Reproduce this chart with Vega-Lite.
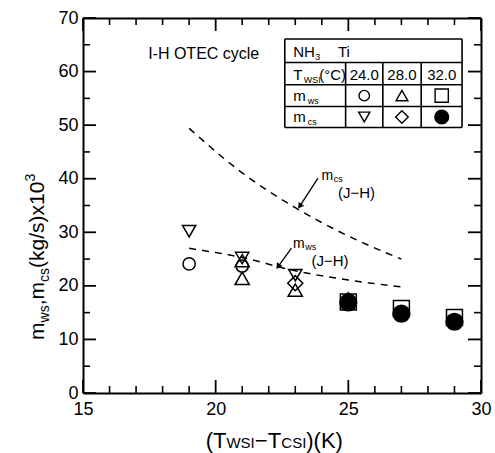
{
  "$schema": "https://vega.github.io/schema/vega-lite/v6.json",
  "width": 398,
  "height": 375,
  "autosize": "none",
  "padding": {"left": 83, "top": 18, "right": 14, "bottom": 60},
  "background": "white",
  "config": {
    "font": "Liberation Sans",
    "view": {"stroke": null},
    "axis": {"domainColor": "black", "labelColor": "black", "titleColor": "black", "grid": false, "domainWidth": 2, "ticks": false, "labelFont": "Liberation Sans"}
  },
  "resolve": {"axis": {"x": "independent", "y": "independent"}, "scale": {"size": "independent"}},
  "datasets": {
    "xticks": [
      {"v": 15, "k": "M"}, {"v": 16, "k": "m"}, {"v": 17, "k": "m"}, {"v": 18, "k": "m"}, {"v": 19, "k": "m"},
      {"v": 20, "k": "M"}, {"v": 21, "k": "m"}, {"v": 22, "k": "m"}, {"v": 23, "k": "m"}, {"v": 24, "k": "m"},
      {"v": 25, "k": "M"}, {"v": 26, "k": "m"}, {"v": 27, "k": "m"}, {"v": 28, "k": "m"}, {"v": 29, "k": "m"},
      {"v": 30, "k": "M"}
    ],
    "yticks": [
      {"v": 0, "k": "M"}, {"v": 5, "k": "m"}, {"v": 10, "k": "M"}, {"v": 15, "k": "m"}, {"v": 20, "k": "M"},
      {"v": 25, "k": "m"}, {"v": 30, "k": "M"}, {"v": 35, "k": "m"}, {"v": 40, "k": "M"}, {"v": 45, "k": "m"},
      {"v": 50, "k": "M"}, {"v": 55, "k": "m"}, {"v": 60, "k": "M"}, {"v": 65, "k": "m"}, {"v": 70, "k": "M"}
    ],
    "jh": [
      {"s": "mcs", "x": 19, "y": 49.4}, {"s": "mcs", "x": 21, "y": 41.1}, {"s": "mcs", "x": 23, "y": 34.6}, {"s": "mcs", "x": 25, "y": 29.3}, {"s": "mcs", "x": 27, "y": 25.0},
      {"s": "mws", "x": 19, "y": 27.0}, {"s": "mws", "x": 21, "y": 25.3}, {"s": "mws", "x": 23, "y": 22.8}, {"s": "mws", "x": 25, "y": 21.1}, {"s": "mws", "x": 27, "y": 19.8}
    ],
    "pts": [
      {"series": "mcs 24.0", "x": 19, "y": 30.2},
      {"series": "mws 24.0", "x": 19, "y": 24.1},
      {"series": "mcs 24.0", "x": 21, "y": 25.2},
      {"series": "mws 28.0", "x": 21, "y": 24.7},
      {"series": "mws 24.0", "x": 21, "y": 23.7},
      {"series": "mws 28.0", "x": 21, "y": 21.4},
      {"series": "mcs 24.0", "x": 23, "y": 22.0},
      {"series": "mcs 28.0", "x": 23, "y": 20.5},
      {"series": "mws 28.0", "x": 23, "y": 19.2},
      {"series": "mws 28.0", "x": 25, "y": 17.5},
      {"series": "mcs 28.0", "x": 25, "y": 17.3},
      {"series": "mws 32.0", "x": 25, "y": 17.0},
      {"series": "mcs 32.0", "x": 25, "y": 16.9},
      {"series": "mws 32.0", "x": 27, "y": 15.8},
      {"series": "mcs 32.0", "x": 27, "y": 14.8},
      {"series": "mws 32.0", "x": 29, "y": 14.1},
      {"series": "mcs 32.0", "x": 29, "y": 13.3}
    ],
    "tlines": [
      {"x1": 22.605, "x2": 29.286, "y1": 66.08, "y2": 66.08},
      {"x1": 22.605, "x2": 29.286, "y1": 61.7, "y2": 61.7},
      {"x1": 22.605, "x2": 29.286, "y1": 57.54, "y2": 57.54},
      {"x1": 22.605, "x2": 29.286, "y1": 53.48, "y2": 53.48},
      {"x1": 22.605, "x2": 29.286, "y1": 49.56, "y2": 49.56},
      {"x1": 22.605, "x2": 22.605, "y1": 66.08, "y2": 49.56},
      {"x1": 29.286, "x2": 29.286, "y1": 66.08, "y2": 49.56},
      {"x1": 24.898, "x2": 24.898, "y1": 61.7, "y2": 49.56},
      {"x1": 26.3, "x2": 26.3, "y1": 61.7, "y2": 49.56},
      {"x1": 27.745, "x2": 27.745, "y1": 61.7, "y2": 49.56}
    ],
    "tsym": [
      {"series": "mws 24.0", "x": 25.6, "y": 55.51},
      {"series": "mws 28.0", "x": 27.02, "y": 55.51},
      {"series": "mws 32.0", "x": 28.52, "y": 55.51},
      {"series": "mcs 24.0", "x": 25.6, "y": 51.52},
      {"series": "mcs 28.0", "x": 27.02, "y": 51.52},
      {"series": "mcs 32.0", "x": 28.52, "y": 51.52}
    ],
    "tbig": [
      {"t": "NH", "x": 22.92, "y": 62.68},
      {"t": "Ti", "x": 24.61, "y": 62.68},
      {"t": "T", "x": 22.92, "y": 58.47},
      {"t": "(°C)", "x": 23.9, "y": 58.47},
      {"t": "m", "x": 22.92, "y": 54.6},
      {"t": "m", "x": 22.92, "y": 50.68}
    ],
    "tsmall": [
      {"t": "3", "x": 23.75, "y": 62.68},
      {"t": "WSI", "x": 23.32, "y": 58.47},
      {"t": "ws", "x": 23.47, "y": 54.6},
      {"t": "cs", "x": 23.47, "y": 50.68}
    ],
    "tnum": [
      {"t": "24.0", "x": 25.6, "y": 58.47},
      {"t": "28.0", "x": 27.02, "y": 58.47},
      {"t": "32.0", "x": 28.52, "y": 58.47}
    ],
    "annbig": [
      {"t": "m", "x": 23.985, "y": 39.79},
      {"t": "m", "x": 22.917, "y": 27.03}
    ],
    "annsmall": [
      {"t": "cs", "x": 24.447, "y": 39.79},
      {"t": "ws", "x": 23.376, "y": 27.03}
    ],
    "annjh": [
      {"t": "(J−H)", "x": 24.609, "y": 36.43},
      {"t": "(J−H)", "x": 23.609, "y": 23.72}
    ],
    "anntitle": [
      {"t": "I-H OTEC cycle", "x": 17.455, "y": 62.4}
    ],
    "arrows": [
      {"x1": 23.857, "y1": 40.11, "x2": 23.17, "y2": 34.87},
      {"x1": 22.857, "y1": 27.03, "x2": 22.353, "y2": 23.59}
    ],
    "xtbig": [
      {"t": "(T", "x": 19.624, "y": -10.27},
      {"t": "−T", "x": 21.477, "y": -10.27},
      {"t": ")(K)", "x": 23.414, "y": -10.27}
    ],
    "xtsmall": [
      {"t": "WSI", "x": 20.406, "y": -10.27},
      {"t": "CSI", "x": 22.474, "y": -10.27}
    ],
    "ytbig": [
      {"t": "m", "x": 13.545, "y": 9.9},
      {"t": ",m", "x": 13.545, "y": 16.36},
      {"t": "(kg/s)x10", "x": 13.545, "y": 23.33}
    ],
    "ytsmall": [
      {"t": "ws", "x": 13.545, "y": 13.17},
      {"t": "cs", "x": 13.545, "y": 20.72}
    ],
    "ytsup": [
      {"t": "3", "x": 13.545, "y": 39.47}
    ]
  },
  "layer": [
    {
      "data": {"name": "jh"},
      "mark": {"type": "line", "strokeDash": [7, 6], "color": "black", "strokeWidth": 1.5, "interpolate": "monotone"},
      "encoding": {
        "x": {"field": "x", "type": "quantitative", "scale": {"domain": [15, 30], "nice": false, "zero": false},
              "axis": {"orient": "bottom", "values": [15, 20, 25, 30], "labelFontSize": 18, "labelPadding": 7, "title": null, "labelFlush": false}},
        "y": {"field": "y", "type": "quantitative", "scale": {"domain": [0, 70], "nice": false, "zero": false},
              "axis": {"orient": "left", "values": [0, 10, 20, 30, 40, 50, 60, 70], "labelFontSize": 18, "labelPadding": 5, "title": null}},
        "detail": {"field": "s"}
      }
    },
    {
      "data": {"name": "tlines"},
      "mark": {"type": "rule", "color": "black", "strokeWidth": 1.6},
      "encoding": {
        "x": {"field": "x1", "type": "quantitative", "scale": {"domain": [15, 30], "nice": false, "zero": false},
              "axis": {"orient": "top", "values": [15, 30], "labels": false, "domain": true, "title": null}},
        "x2": {"field": "x2"},
        "y": {"field": "y1", "type": "quantitative", "scale": {"domain": [0, 70], "nice": false, "zero": false},
              "axis": {"orient": "right", "values": [0, 70], "labels": false, "domain": true, "title": null}},
        "y2": {"field": "y2"}
      }
    },
    {
      "data": {"name": "xticks"},
      "mark": {"type": "rule", "color": "black", "strokeWidth": 1.8, "y2Offset": -13},
      "transform": [{"filter": "datum.k === 'M'"}],
      "encoding": {"x": {"field": "v", "type": "quantitative", "axis": null}, "y": {"datum": 0, "type": "quantitative", "axis": null}, "y2": {"datum": 0}}
    },
    {
      "data": {"name": "xticks"},
      "mark": {"type": "rule", "color": "black", "strokeWidth": 1.6, "y2Offset": -7},
      "transform": [{"filter": "datum.k === 'm'"}],
      "encoding": {"x": {"field": "v", "type": "quantitative", "axis": null}, "y": {"datum": 0, "type": "quantitative", "axis": null}, "y2": {"datum": 0}}
    },
    {
      "data": {"name": "xticks"},
      "mark": {"type": "rule", "color": "black", "strokeWidth": 1.8, "y2Offset": 13},
      "transform": [{"filter": "datum.k === 'M'"}],
      "encoding": {"x": {"field": "v", "type": "quantitative", "axis": null}, "y": {"datum": 70, "type": "quantitative", "axis": null}, "y2": {"datum": 70}}
    },
    {
      "data": {"name": "xticks"},
      "mark": {"type": "rule", "color": "black", "strokeWidth": 1.6, "y2Offset": 7},
      "transform": [{"filter": "datum.k === 'm'"}],
      "encoding": {"x": {"field": "v", "type": "quantitative", "axis": null}, "y": {"datum": 70, "type": "quantitative", "axis": null}, "y2": {"datum": 70}}
    },
    {
      "data": {"name": "yticks"},
      "mark": {"type": "rule", "color": "black", "strokeWidth": 1.8, "x2Offset": 13},
      "transform": [{"filter": "datum.k === 'M'"}],
      "encoding": {"y": {"field": "v", "type": "quantitative", "axis": null}, "x": {"datum": 15, "type": "quantitative", "axis": null}, "x2": {"datum": 15}}
    },
    {
      "data": {"name": "yticks"},
      "mark": {"type": "rule", "color": "black", "strokeWidth": 1.6, "x2Offset": 7},
      "transform": [{"filter": "datum.k === 'm'"}],
      "encoding": {"y": {"field": "v", "type": "quantitative", "axis": null}, "x": {"datum": 15, "type": "quantitative", "axis": null}, "x2": {"datum": 15}}
    },
    {
      "data": {"name": "yticks"},
      "mark": {"type": "rule", "color": "black", "strokeWidth": 1.8, "x2Offset": -13},
      "transform": [{"filter": "datum.k === 'M'"}],
      "encoding": {"y": {"field": "v", "type": "quantitative", "axis": null}, "x": {"datum": 30, "type": "quantitative", "axis": null}, "x2": {"datum": 30}}
    },
    {
      "data": {"name": "yticks"},
      "mark": {"type": "rule", "color": "black", "strokeWidth": 1.6, "x2Offset": -7},
      "transform": [{"filter": "datum.k === 'm'"}],
      "encoding": {"y": {"field": "v", "type": "quantitative", "axis": null}, "x": {"datum": 30, "type": "quantitative", "axis": null}, "x2": {"datum": 30}}
    },
    {
      "data": {"name": "pts"},
      "mark": {"type": "point", "filled": true, "stroke": "black", "strokeWidth": 1.5, "opacity": 1},
      "encoding": {
        "x": {"field": "x", "type": "quantitative", "axis": null},
        "y": {"field": "y", "type": "quantitative", "axis": null},
        "shape": {"field": "series", "type": "nominal", "legend": null,
                  "scale": {"domain": ["mws 24.0", "mcs 24.0", "mws 28.0", "mcs 28.0", "mws 32.0", "mcs 32.0"], "range": ["circle", "triangle-down", "triangle-up", "diamond", "square", "circle"]}},
        "size": {"field": "series", "type": "nominal", "legend": null,
                 "scale": {"domain": ["mws 24.0", "mcs 24.0", "mws 28.0", "mcs 28.0", "mws 32.0", "mcs 32.0"], "range": [150, 280, 280, 250, 180, 210]}},
        "fill": {"condition": {"test": "datum.series === 'mcs 32.0'", "value": "black"}, "value": "transparent"}
      }
    },
    {
      "data": {"name": "tsym"},
      "mark": {"type": "point", "filled": true, "stroke": "black", "strokeWidth": 1.4, "opacity": 1},
      "encoding": {
        "x": {"field": "x", "type": "quantitative", "axis": null},
        "y": {"field": "y", "type": "quantitative", "axis": null},
        "shape": {"field": "series", "type": "nominal", "legend": null},
        "size": {"field": "series", "type": "nominal", "legend": null,
                 "scale": {"domain": ["mws 24.0", "mcs 24.0", "mws 28.0", "mcs 28.0", "mws 32.0", "mcs 32.0"], "range": [110, 190, 190, 200, 120, 150]}},
        "fill": {"condition": {"test": "datum.series === 'mcs 32.0'", "value": "black"}, "value": "transparent"}
      }
    },
    {
      "data": {"name": "tbig"},
      "mark": {"type": "text", "align": "left", "baseline": "alphabetic", "fontSize": 15, "color": "black"},
      "encoding": {
        "x": {"field": "x", "type": "quantitative", "axis": null},
        "y": {"field": "y", "type": "quantitative", "axis": null},
        "text": {"field": "t"}
      }
    },
    {
      "data": {"name": "tsmall"},
      "mark": {"type": "text", "align": "left", "baseline": "alphabetic", "fontSize": 9, "dy": 3, "color": "black"},
      "encoding": {
        "x": {"field": "x", "type": "quantitative", "axis": null},
        "y": {"field": "y", "type": "quantitative", "axis": null},
        "text": {"field": "t"}
      }
    },
    {
      "data": {"name": "tnum"},
      "mark": {"type": "text", "align": "center", "baseline": "alphabetic", "fontSize": 15, "color": "black"},
      "encoding": {
        "x": {"field": "x", "type": "quantitative", "axis": null},
        "y": {"field": "y", "type": "quantitative", "axis": null},
        "text": {"field": "t"}
      }
    },
    {
      "data": {"name": "annbig"},
      "mark": {"type": "text", "align": "left", "baseline": "alphabetic", "fontSize": 14, "color": "black"},
      "encoding": {
        "x": {"field": "x", "type": "quantitative", "axis": null},
        "y": {"field": "y", "type": "quantitative", "axis": null},
        "text": {"field": "t"}
      }
    },
    {
      "data": {"name": "annsmall"},
      "mark": {"type": "text", "align": "left", "baseline": "alphabetic", "fontSize": 9, "dy": 2, "color": "black"},
      "encoding": {
        "x": {"field": "x", "type": "quantitative", "axis": null},
        "y": {"field": "y", "type": "quantitative", "axis": null},
        "text": {"field": "t"}
      }
    },
    {
      "data": {"name": "annjh"},
      "mark": {"type": "text", "align": "left", "baseline": "alphabetic", "fontSize": 15, "color": "black"},
      "encoding": {
        "x": {"field": "x", "type": "quantitative", "axis": null},
        "y": {"field": "y", "type": "quantitative", "axis": null},
        "text": {"field": "t"}
      }
    },
    {
      "data": {"name": "anntitle"},
      "mark": {"type": "text", "align": "left", "baseline": "alphabetic", "fontSize": 16, "color": "black"},
      "encoding": {
        "x": {"field": "x", "type": "quantitative", "axis": null},
        "y": {"field": "y", "type": "quantitative", "axis": null},
        "text": {"field": "t"}
      }
    },
    {
      "data": {"name": "arrows"},
      "mark": {"type": "rule", "color": "black", "strokeWidth": 1.3},
      "encoding": {
        "x": {"field": "x1", "type": "quantitative", "axis": null},
        "x2": {"field": "x2"},
        "y": {"field": "y1", "type": "quantitative", "axis": null},
        "y2": {"field": "y2"}
      }
    },
    {
      "data": {"name": "arrows"},
      "mark": {"type": "point", "shape": "triangle-down", "angle": 34, "filled": true, "color": "black", "size": 45, "opacity": 1},
      "encoding": {
        "x": {"field": "x2", "type": "quantitative", "axis": null},
        "y": {"field": "y2", "type": "quantitative", "axis": null}
      }
    },
    {
      "data": {"name": "xtbig"},
      "mark": {"type": "text", "align": "left", "baseline": "alphabetic", "fontSize": 22, "color": "black"},
      "encoding": {
        "x": {"field": "x", "type": "quantitative", "axis": null},
        "y": {"field": "y", "type": "quantitative", "axis": null},
        "text": {"field": "t"}
      }
    },
    {
      "data": {"name": "xtsmall"},
      "mark": {"type": "text", "align": "left", "baseline": "alphabetic", "fontSize": 15, "color": "black"},
      "encoding": {
        "x": {"field": "x", "type": "quantitative", "axis": null},
        "y": {"field": "y", "type": "quantitative", "axis": null},
        "text": {"field": "t"}
      }
    },
    {
      "data": {"name": "ytbig"},
      "mark": {"type": "text", "align": "left", "baseline": "alphabetic", "angle": 270, "fontSize": 21, "color": "black"},
      "encoding": {
        "x": {"field": "x", "type": "quantitative", "axis": null},
        "y": {"field": "y", "type": "quantitative", "axis": null},
        "text": {"field": "t"}
      }
    },
    {
      "data": {"name": "ytsmall"},
      "mark": {"type": "text", "align": "left", "baseline": "alphabetic", "angle": 270, "fontSize": 14, "dy": 5, "color": "black"},
      "encoding": {
        "x": {"field": "x", "type": "quantitative", "axis": null},
        "y": {"field": "y", "type": "quantitative", "axis": null},
        "text": {"field": "t"}
      }
    },
    {
      "data": {"name": "ytsup"},
      "mark": {"type": "text", "align": "left", "baseline": "alphabetic", "angle": 270, "fontSize": 14, "dy": -9, "color": "black"},
      "encoding": {
        "x": {"field": "x", "type": "quantitative", "axis": null},
        "y": {"field": "y", "type": "quantitative", "axis": null},
        "text": {"field": "t"}
      }
    }
  ]
}
